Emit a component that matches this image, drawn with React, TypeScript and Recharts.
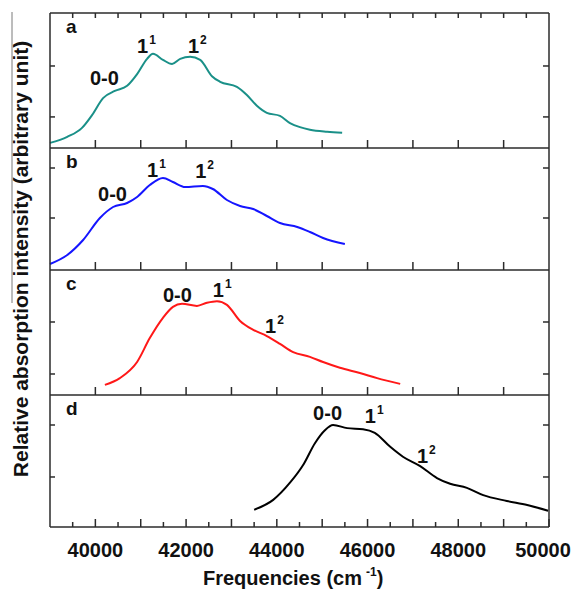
import React from "react";
import { LineChart, Line, XAxis, YAxis, ReferenceDot } from "recharts";

const FONT = "'Liberation Sans', Arial, Helvetica, sans-serif";
const FRAME = "#2b2b2b";

// x axis ticks (cm-1)
const TOP_TICKS = [39500, 40000, 40500, 41000, 41500, 42000, 42500, 43000, 43500, 44000, 44500, 45000, 45500, 46000, 46500, 47000, 47500, 48000, 48500, 49000, 49500];
const MAJOR_TICKS = [40000, 41000, 42000, 43000, 44000, 45000, 46000, 47000, 48000, 49000];
const BOTTOM_TICKS = [39500, 40000, 40500, 41000, 41500, 42000, 42500, 43000, 43500, 44000, 44500, 45000, 45500, 46000, 46500, 47000, 47500, 48000, 48500, 49000, 49500, 50000];
const LABEL_TICKS = [40000, 42000, 44000, 46000, 48000, 50000];
const Y_TICKS = [1, 2];

// spectrum a
const FREQ_A = [39000, 39380, 39700, 39930, 40170, 40430, 40700, 40920, 41140, 41270, 41490, 41690, 41870, 42090, 42310, 42570, 42750, 43120, 43340, 43560, 43780, 44070, 44290, 44510, 44730, 45110, 45440];
const INT_A = [0.49, 0.61, 0.78, 1.04, 1.37, 1.51, 1.61, 1.84, 2.14, 2.24, 2.12, 2.04, 2.14, 2.18, 2.12, 1.8, 1.69, 1.59, 1.43, 1.22, 1.08, 1.02, 0.88, 0.8, 0.75, 0.71, 0.69];

// spectrum b
const FREQ_B = [39000, 39380, 39730, 40100, 40390, 40700, 40920, 41200, 41490, 41710, 41980, 42370, 42590, 42900, 43190, 43480, 43780, 44070, 44450, 44730, 45020, 45500];
const INT_B = [0.08, 0.26, 0.56, 1.0, 1.22, 1.3, 1.42, 1.66, 1.8, 1.72, 1.62, 1.64, 1.58, 1.36, 1.24, 1.18, 1.04, 0.9, 0.82, 0.72, 0.6, 0.48];

// spectrum c
const FREQ_C = [40210, 40540, 40920, 41200, 41490, 41710, 41910, 42240, 42460, 42680, 42900, 43190, 43480, 43780, 44070, 44360, 44730, 45020, 45390, 45830, 46210, 46720];
const INT_C = [0.79, 0.92, 1.23, 1.69, 2.08, 2.29, 2.35, 2.31, 2.37, 2.4, 2.33, 2.02, 1.85, 1.73, 1.58, 1.42, 1.33, 1.23, 1.12, 1.02, 0.92, 0.81];

// spectrum d
const FREQ_D = [43500, 43920, 44290, 44580, 44840, 45060, 45240, 45550, 45900, 46160, 46500, 46780, 47160, 47530, 47820, 48190, 48550, 49070, 49520, 49980];
const INT_D = [0.37, 0.56, 0.89, 1.23, 1.65, 1.9, 2.0, 1.94, 1.92, 1.85, 1.58, 1.39, 1.21, 0.98, 0.87, 0.79, 0.65, 0.54, 0.46, 0.35];

// band assignments: [freq, intensity, main, superscript]
const NOTES_A: [number, number, string, string][] = [[39880, 1.63, "0-0", ""], [40920, 2.26, "1", "1"], [42040, 2.26, "1", "2"]];
const NOTES_B: [number, number, string, string][] = [[40060, 1.34, "0-0", ""], [41140, 1.82, "1", "1"], [42200, 1.8, "1", "2"]];
const NOTES_C: [number, number, string, string][] = [[41490, 2.39, "0-0", ""], [42590, 2.48, "1", "1"], [43740, 1.79, "1", "2"]];
const NOTES_D: [number, number, string, string][] = [[44800, 2.1, "0-0", ""], [45940, 2.04, "1", "1"], [47090, 1.27, "1", "2"]];

const toRows = (f: number[], v: number[]) => f.map((x, i) => ({ f: x, v: v[i] }));

const PANELS = [
  { id: "a", rows: toRows(FREQ_A, INT_A), notes: NOTES_A, color: "#1a9088", domain: [0.39, 3.04], top: 13, h: 135 },
  { id: "b", rows: toRows(FREQ_B, INT_B), notes: NOTES_B, color: "#1515ff", domain: [-0.04, 2.4], top: 148, h: 122 },
  { id: "c", rows: toRows(FREQ_C, INT_C), notes: NOTES_C, color: "#ff1818", domain: [0.596, 3.0], top: 270, h: 125 },
  { id: "d", rows: toRows(FREQ_D, INT_D), notes: NOTES_D, color: "#000000", domain: [0.038, 2.577], top: 395, h: 132 },
];

const BottomTick = ({ x, y, payload, last }: any) => {
  const v = payload.value;
  const major = v % 1000 === 0;
  // the last label sits at the right edge, nudge it inside
  const lx = v === 50000 ? x - 6 : x;
  return (
    <g>
      <line x1={x} x2={x} y1={y} y2={y - (major ? 8 : 5)} stroke={FRAME} strokeWidth={1.5} />
      {last && LABEL_TICKS.includes(v) && (
        <text x={lx} y={y + 30} textAnchor="middle" fontSize={20} fontWeight="bold" fontFamily={FONT} fill="#111">
          {v}
        </text>
      )}
    </g>
  );
};

const TopTick = ({ x, y }: any) => (
  <line x1={x} x2={x} y1={y} y2={y + 5} stroke={FRAME} strokeWidth={1.5} />
);

const LeftTick = ({ x, y }: any) => (
  <line x1={x} x2={x + 5} y1={y} y2={y} stroke={FRAME} strokeWidth={1.5} />
);

const RightTick = ({ x, y }: any) => (
  <line x1={x} x2={x - 6} y1={y} y2={y} stroke={FRAME} strokeWidth={1.5} />
);

const noteShape = (main: string, sup: string) => (p: any) => (
  <text x={p.cx} y={p.cy} fontSize={20} fontWeight="bold" fontFamily={FONT} fill="#111">
    {main}
    {sup && (
      <tspan fontSize={12} dx={1} dy={-9}>
        {sup}
      </tspan>
    )}
  </text>
);

const Panel = ({ p, first, last }: any) => {
  // axes need a non-zero height to be drawn
  const topPad = first ? 1 : 0;
  const bottomPad = last ? 69 : 1;
  return (
    <div style={{ position: "absolute", left: 0, top: p.top - topPad }}>
      <LineChart width={575} height={p.h + topPad + bottomPad} data={p.rows} margin={{ top: 0, right: 0, bottom: 0, left: 0 }}>
        <XAxis
          dataKey="f"
          type="number"
          domain={[39000, 50000]}
          ticks={last ? BOTTOM_TICKS : MAJOR_TICKS}
          interval={0}
          height={bottomPad}
          tickSize={0}
          tickMargin={0}
          tickLine={false}
          axisLine={{ stroke: FRAME, strokeWidth: 1.5 }}
          tick={(t: any) => <BottomTick {...t} last={last} />}
        />
        {first && (
          <XAxis
            xAxisId="top"
            orientation="top"
            dataKey="f"
            type="number"
            domain={[39000, 50000]}
            ticks={TOP_TICKS}
            interval={0}
            height={topPad}
            tickSize={0}
            tickMargin={0}
            tickLine={false}
            axisLine={{ stroke: FRAME, strokeWidth: 1.5 }}
            tick={(t: any) => <TopTick {...t} />}
          />
        )}
        <YAxis
          type="number"
          domain={p.domain}
          allowDataOverflow
          ticks={Y_TICKS}
          width={50}
          tickSize={0}
          tickMargin={0}
          tickLine={false}
          axisLine={{ stroke: FRAME, strokeWidth: 1.5 }}
          tick={(t: any) => <LeftTick {...t} />}
        />
        <YAxis
          yAxisId="right"
          orientation="right"
          type="number"
          domain={p.domain}
          allowDataOverflow
          ticks={Y_TICKS}
          width={26}
          tickSize={0}
          tickMargin={0}
          tickLine={false}
          axisLine={{ stroke: FRAME, strokeWidth: 1.5 }}
          tick={(t: any) => <RightTick {...t} />}
        />
        <Line
          type="monotone"
          dataKey="v"
          stroke={p.color}
          strokeWidth={2}
          dot={false}
          isAnimationActive={false}
        />
        {p.notes.map((n: any, i: number) => (
          <ReferenceDot key={i} x={n[0]} y={n[1]} r={1} shape={noteShape(n[2], n[3])} />
        ))}
      </LineChart>
    </div>
  );
};

export default function App() {
  return (
    <div style={{ position: "absolute", left: 0, top: 0, width: 575, height: 596, background: "#fff", fontFamily: FONT }}>
      {PANELS.map((p, i) => (
        <Panel key={p.id} p={p} first={i === 0} last={i === PANELS.length - 1} />
      ))}
      <svg width={575} height={596} style={{ position: "absolute", left: 0, top: 0, pointerEvents: "none" }}>
        <line x1={12} x2={12} y1={12} y2={303} stroke="#7a7a7a" strokeWidth={1} />
        <text
          transform="translate(28,259) rotate(-90)"
          textAnchor="middle"
          fontSize={21}
          fontWeight="bold"
          fontFamily={FONT}
          fill="#111"
        >
          Relative absorption intensity (arbitrary unit)
        </text>
        <text x={203} y={585} fontSize={20} fontWeight="bold" fontFamily={FONT} fill="#111">
          Frequencies (cm
          <tspan fontSize={12} dx={4} dy={-9}>-1</tspan>
          <tspan dy={9}>)</tspan>
        </text>
        {PANELS.map((p) => (
          <text key={p.id} x={66} y={p.top + 20} fontSize={19} fontWeight="bold" fontFamily={FONT} fill="#111">
            {p.id}
          </text>
        ))}
      </svg>
    </div>
  );
}
